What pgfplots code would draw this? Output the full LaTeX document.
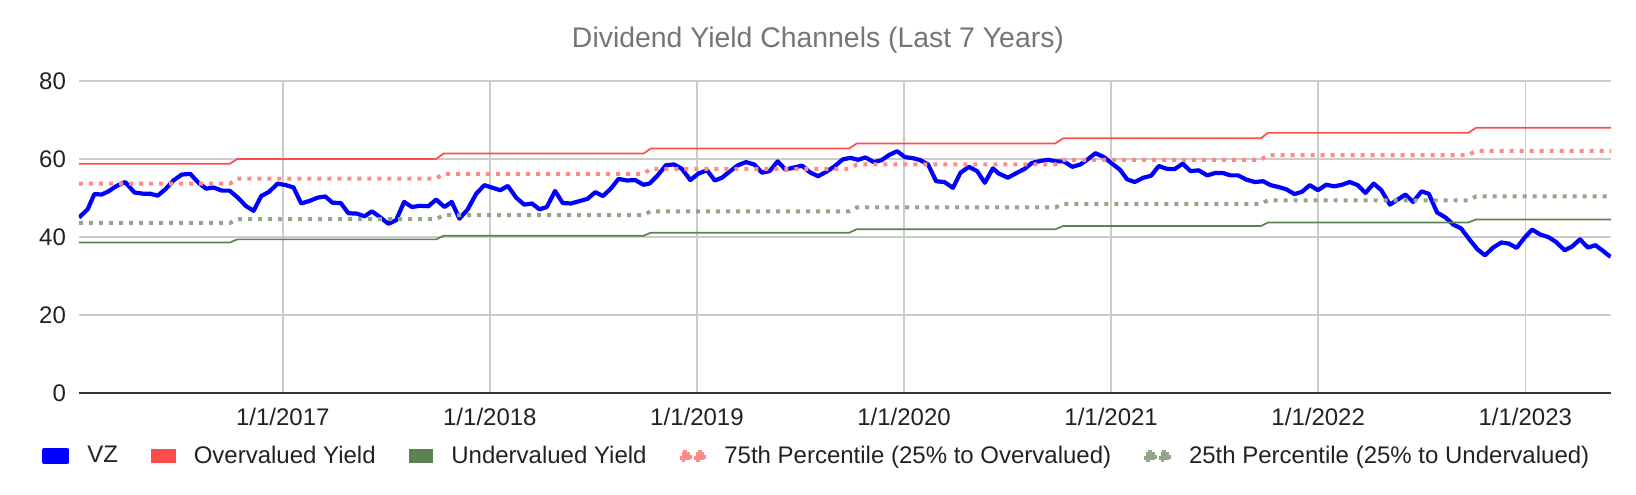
\documentclass[border=0pt]{standalone}
\usepackage{fontspec}
\setmainfont{Liberation Sans}
\usepackage{pgfplots}
\usepackage{pgfplotstable}
\pgfplotsset{compat=1.18}
\definecolor{vzblue}{HTML}{0000FF}
\definecolor{overred}{HTML}{FF4D4D}
\definecolor{undergreen}{HTML}{5F8051}
\definecolor{pcred}{HTML}{FF8A8A}
\definecolor{pcgreen}{HTML}{92A789}
\definecolor{gridgray}{HTML}{CCCCCC}
\definecolor{titlegray}{HTML}{757575}
\definecolor{txt}{HTML}{222222}

\pgfplotstableread{
d v
2016.016 45.0
2016.058 47.1
2016.090 51.0
2016.126 50.9
2016.158 51.7
2016.198 53.1
2016.239 54.1
2016.284 51.4
2016.327 51.1
2016.359 51.1
2016.396 50.6
2016.432 52.2
2016.472 54.5
2016.512 56.0
2016.553 56.2
2016.593 53.9
2016.630 52.4
2016.665 52.7
2016.706 51.9
2016.743 51.9
2016.783 50.1
2016.821 48.0
2016.859 46.7
2016.896 50.5
2016.934 51.6
2016.975 53.7
2017.015 53.3
2017.052 52.7
2017.089 48.6
2017.132 49.3
2017.169 50.1
2017.205 50.4
2017.240 48.8
2017.280 48.7
2017.317 46.1
2017.358 46.0
2017.395 45.3
2017.430 46.6
2017.470 45.1
2017.510 43.4
2017.547 44.3
2017.586 49.0
2017.623 47.7
2017.663 48.0
2017.703 47.9
2017.741 49.6
2017.781 47.7
2017.816 49.0
2017.853 44.7
2017.892 47.0
2017.934 51.1
2017.974 53.3
2018.014 52.6
2018.050 52.0
2018.087 53.1
2018.127 50.1
2018.166 48.3
2018.203 48.6
2018.240 47.1
2018.275 47.7
2018.315 51.8
2018.352 48.7
2018.391 48.6
2018.433 49.2
2018.472 49.8
2018.509 51.5
2018.546 50.5
2018.584 52.4
2018.621 54.9
2018.662 54.5
2018.702 54.6
2018.742 53.4
2018.771 53.7
2018.807 55.6
2018.850 58.4
2018.890 58.6
2018.927 57.5
2018.968 54.6
2019.008 56.3
2019.049 57.1
2019.086 54.5
2019.121 55.2
2019.161 56.9
2019.198 58.4
2019.237 59.2
2019.277 58.6
2019.314 56.5
2019.351 56.9
2019.390 59.4
2019.427 57.3
2019.467 57.8
2019.508 58.3
2019.545 56.6
2019.585 55.6
2019.624 56.7
2019.664 58.1
2019.704 59.9
2019.741 60.3
2019.778 59.8
2019.814 60.4
2019.854 59.2
2019.891 59.7
2019.930 61.1
2019.967 62.0
2020.004 60.5
2020.044 60.2
2020.079 59.7
2020.116 58.6
2020.155 54.3
2020.195 54.1
2020.236 52.6
2020.273 56.5
2020.313 58.0
2020.353 56.9
2020.390 53.9
2020.429 57.6
2020.457 56.3
2020.501 55.2
2020.543 56.4
2020.583 57.5
2020.618 59.0
2020.659 59.5
2020.696 59.8
2020.736 59.4
2020.771 59.4
2020.812 58.0
2020.852 58.6
2020.892 60.1
2020.924 61.5
2020.965 60.5
2021.000 59.0
2021.042 57.3
2021.077 54.8
2021.114 54.1
2021.155 55.2
2021.193 55.7
2021.230 58.2
2021.267 57.5
2021.306 57.4
2021.346 58.8
2021.383 56.9
2021.423 57.1
2021.464 55.8
2021.501 56.4
2021.541 56.4
2021.576 55.8
2021.613 55.8
2021.654 54.7
2021.694 54.1
2021.734 54.3
2021.770 53.3
2021.810 52.8
2021.847 52.2
2021.886 51.0
2021.922 51.6
2021.959 53.3
2021.999 52.0
2022.038 53.4
2022.078 53.0
2022.115 53.4
2022.152 54.1
2022.191 53.3
2022.228 51.3
2022.268 53.7
2022.305 52.0
2022.346 48.3
2022.384 49.6
2022.421 50.9
2022.458 49.0
2022.499 51.7
2022.534 51.1
2022.574 46.3
2022.615 45.0
2022.652 43.2
2022.690 42.2
2022.727 39.6
2022.768 36.9
2022.805 35.3
2022.845 37.3
2022.884 38.6
2022.921 38.3
2022.958 37.2
2022.996 39.8
2023.033 41.9
2023.074 40.6
2023.111 40.0
2023.149 38.7
2023.190 36.6
2023.227 37.6
2023.264 39.4
2023.302 37.3
2023.339 37.9
2023.376 36.4
2023.412 34.9
}\vzdata

\pgfplotstableread{
d over p75 p25 under
2016.016 58.8 53.7 43.6 38.6
2016.745 58.8 53.7 43.6 38.6
2016.780 60.0 55.0 44.6 39.4
2017.741 60.0 55.0 44.6 39.4
2017.776 61.4 56.2 45.6 40.3
2018.742 61.4 56.2 45.6 40.3
2018.777 62.7 57.5 46.6 41.1
2019.735 62.7 57.5 46.6 41.1
2019.772 64.0 58.6 47.6 42.0
2020.731 64.0 58.6 47.6 42.0
2020.768 65.3 59.8 48.5 42.8
2021.723 65.3 59.8 48.5 42.8
2021.757 66.7 61.0 49.4 43.7
2022.724 66.7 61.0 49.4 43.7
2022.762 68.0 62.1 50.4 44.5
2023.414 68.0 62.1 50.4 44.5
}\chan

\begin{document}
\begin{tikzpicture}
\begin{axis}[
  at={(0,0)}, anchor=south west,
  scale only axis, width=766pt, height=156pt,
  xmin=2016.016, xmax=2023.414, ymin=0, ymax=80,
  xtick={2017,2018,2019,2020,2021,2022,2023},
  xticklabels={1/1/2017,1/1/2018,1/1/2019,1/1/2020,1/1/2021,1/1/2022,1/1/2023},
  ytick={0,20,40,60,80},
  grid=major, major grid style={gridgray, line width=0.75pt},
  major tick length=0pt,
  axis line style={draw=none},
  tick label style={font=\fontsize{12}{14}\selectfont, text=txt},
  /pgf/number format/assume math mode=true,
  yticklabel style={xshift=-3pt},
  xticklabel style={yshift=-4pt},
  legend columns=-1,
  legend style={at={(0.4822,-0.2019)}, anchor=center, draw=none, fill=none,
    font=\fontsize{12}{14}\selectfont, text=txt,
    /tikz/every odd column/.append style={column sep=7pt},
    /tikz/every even column/.append style={column sep=14.5pt}},
  legend cell align=left,
]
\addplot[vzblue, line width=2.1pt, line join=round,
  legend image code/.code={\fill[vzblue] (0pt,-3pt) rectangle (11.5pt,3pt);}]
  table[x=d, y=v] {\vzdata};
\addlegendentry{VZ}
\addplot[overred, line width=0.85pt,
  legend image code/.code={\fill[overred] (0pt,-3pt) rectangle (11.5pt,3pt);}]
  table[x=d, y=over] {\chan};
\addlegendentry{Overvalued Yield}
\addplot[undergreen, line width=0.85pt,
  legend image code/.code={\fill[undergreen] (0pt,-3pt) rectangle (11.5pt,3pt);}]
  table[x=d, y=under] {\chan};
\addlegendentry{Undervalued Yield}
\addplot[pcred, line width=2pt, dash pattern=on 2pt off 3pt,
  legend image code/.code={\fill[pcred] (0pt,-2.1pt) rectangle (4.2pt,2.1pt); \fill[pcred] (7.2pt,-2.1pt) rectangle (11.4pt,2.1pt);}]
  table[x=d, y=p75] {\chan};
\addlegendentry{75th Percentile (25\% to Overvalued)}
\addplot[pcgreen, line width=2pt, dash pattern=on 2pt off 3pt,
  legend image code/.code={\fill[pcgreen] (0pt,-2.1pt) rectangle (4.2pt,2.1pt); \fill[pcgreen] (7.2pt,-2.1pt) rectangle (11.4pt,2.1pt);}]
  table[x=d, y=p25] {\chan};
\addlegendentry{25th Percentile (25\% to Undervalued)}
\draw[black!80, line width=1pt] (axis cs:2016.016,0) -- (axis cs:2023.414,0);
\end{axis}
\node[font=\fontsize{14.2}{17}\selectfont, text=titlegray] at (369.5pt,176.5pt) {Dividend Yield Channels (Last 7 Years)};
\pgfresetboundingbox
\useasboundingbox (-39.5pt,-50.5pt) rectangle (778.5pt,196.5pt);
\end{tikzpicture}
\end{document}
